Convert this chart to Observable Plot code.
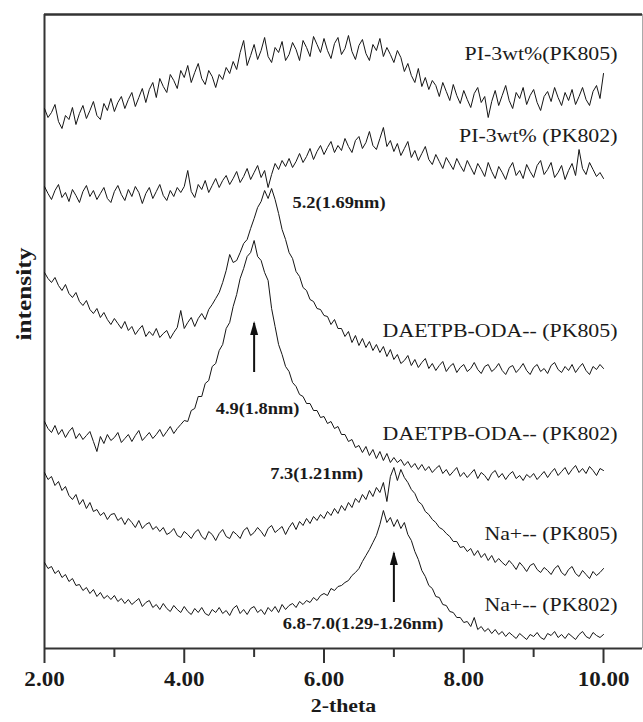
<!DOCTYPE html>
<html><head><meta charset="utf-8">
<script src="https://cdn.jsdelivr.net/npm/d3@7"></script>
<script src="https://cdn.jsdelivr.net/npm/@observablehq/plot@0.6"></script>
<style>body{margin:0;background:#fff;}</style>
</head><body>
<div id="chart"></div>
<script>
// 2-theta sampling grid: 2.00 .. 10.00 step 0.05 (161 points)
const thetaStart = 2, thetaStep = 0.05, nPoints = 161;

// intensities (arbitrary offset units)
const pi805 = [
540,531,536,544,527,520,533,529,541,524,
535,543,530,538,547,533,529,545,538,550,
537,546,552,540,549,556,542,551,560,546,
559,566,551,570,562,556,574,568,560,578,
571,583,566,576,585,570,564,578,572,561,
574,569,581,575,587,579,596,608,583,593,
604,589,598,611,592,586,601,596,607,588,
594,606,599,588,608,601,592,612,604,596,
610,598,590,605,611,594,600,613,597,589,
603,609,595,588,604,598,610,592,601,594,
586,598,591,577,585,573,566,580,562,571,
559,568,563,552,566,557,548,564,553,545,
558,549,541,555,561,546,552,531,547,558,
543,553,563,548,540,556,550,561,544,553,
559,546,538,552,557,547,561,551,543,556,
548,559,544,552,561,549,543,557,563,550,
575];
const pi802 = [
462,455,449,458,464,451,456,447,459,453,
446,457,463,452,458,449,455,461,450,446,
457,463,454,448,459,452,462,456,445,455,
461,450,457,464,453,448,458,452,461,456,
462,478,457,451,464,459,468,456,463,470,
461,468,473,464,470,477,466,472,480,469,
476,483,471,478,461,474,485,479,488,482,
490,481,487,495,486,492,500,489,497,503,
494,501,507,496,503,498,510,502,496,508,
512,500,506,517,503,499,510,521,502,508,
497,505,493,500,507,491,498,488,495,502,
489,484,494,487,480,491,485,479,490,483,
477,488,481,474,485,479,472,486,477,470,
482,476,469,480,486,473,478,470,484,477,
471,483,488,474,479,486,471,476,483,469,
478,485,473,499,480,474,486,479,472,476,
470];
const dae805 = [
376,370,366,371,363,358,364,355,351,356,
347,343,348,339,335,340,331,336,329,324,
330,325,320,327,318,322,314,319,323,312,
317,313,320,311,315,318,310,316,321,338,
320,326,331,322,330,335,329,339,344,350,
356,366,378,394,386,388,396,405,409,420,
430,441,447,458,450,460,449,435,419,409,
396,390,377,372,361,358,349,347,340,339,
333,332,324,329,320,320,312,317,306,313,
303,310,301,307,298,304,296,302,292,299,
289,294,285,288,293,283,289,281,286,290,
280,285,278,283,287,277,282,285,276,281,
284,277,280,286,279,275,282,284,277,280,
285,278,274,281,283,276,280,285,278,274,
281,284,277,280,275,283,286,279,276,282,
278,284,276,281,285,278,274,282,279,284,
280];
const dae802 = [
227,220,216,223,214,219,211,217,221,210,
215,209,213,217,207,197,212,205,214,208,
211,216,206,210,214,207,213,218,208,212,
216,210,214,219,212,217,222,215,220,224,
228,227,238,240,252,252,265,268,282,285,
298,304,320,326,342,354,370,380,392,396,
408,392,388,376,368,340,322,304,294,282,
277,266,262,254,252,245,245,238,238,231,
232,225,227,220,222,214,214,207,209,201,
203,196,202,193,199,190,197,188,195,186,
191,186,189,183,187,181,185,179,184,178,
182,176,180,183,175,179,173,177,181,172,
176,171,175,179,170,176,173,168,175,178,
171,175,169,174,177,170,173,168,174,171,
175,169,173,177,171,176,180,173,177,181,
174,179,183,176,180,175,182,178,173,180,
178];
const na805 = [
176,169,172,163,167,158,162,153,149,154,
144,149,140,146,137,139,133,136,129,134,
135,128,131,124,130,126,121,128,120,124,
126,119,122,117,121,114,116,120,113,111,
117,114,110,116,119,112,109,117,114,108,
115,119,112,110,117,114,110,118,121,113,
116,121,117,112,120,123,116,119,122,114,
121,126,119,127,123,130,125,132,128,134,
130,137,133,140,135,143,138,146,141,150,
146,154,149,158,152,161,156,166,147,172,
181,168,179,171,166,159,155,147,144,137,
134,129,126,121,119,115,112,107,107,101,
102,97,100,93,98,91,95,88,93,86,
90,86,83,88,84,79,86,82,77,83,
85,79,76,81,78,74,80,83,76,73,
79,82,75,72,78,74,70,77,73,76,
80];
const na802 = [
86,80,82,75,78,71,74,67,70,63,
64,58,61,55,59,52,56,50,53,49,
53,47,50,45,49,44,47,50,42,46,
48,41,44,39,45,40,37,43,39,36,
42,37,34,40,36,41,35,33,39,36,
41,35,38,33,40,43,35,39,34,40,
42,36,39,34,41,37,42,36,44,39,
43,45,41,47,44,48,46,51,48,53,
55,53,60,58,62,63,66,68,73,76,
80,87,93,99,106,113,124,138,126,131,
122,129,120,126,114,108,97,89,78,72,
63,60,52,51,44,43,37,36,31,31,
26,27,22,31,19,22,17,20,15,19,
14,17,12,16,13,10,15,12,9,14,
12,16,11,9,15,13,17,11,14,10,
15,12,9,14,17,12,10,16,13,11,
14];

const seriesNames = ["PI-3wt%(PK805)", "PI-3wt% (PK802)", "DAETPB-ODA-- (PK805)", "DAETPB-ODA-- (PK802)", "Na+-- (PK805)", "Na+-- (PK802)"];
const seriesValues = [pi805, pi802, dae805, dae802, na805, na802];
const labelY = [595, 513, 318, 215, 115, 44];
const labelX = 10.2;

const noteText = ["5.2(1.69nm)", "4.9(1.8nm)", "7.3(1.21nm)", "6.8-7.0(1.29-1.26nm)"];
const noteX = [5.55, 4.45, 5.23, 5.41];
const noteY = [446, 240, 175, 25];

const arrowX = [5.0, 7.0];
const arrowFrom = [276, 46];
const arrowTo = [325, 95];

const majorTicks = [2, 4, 6, 8, 10];
const minorTicks = [3, 5, 7, 9];
const xDomain = [2, 10.558];
const yDomain = [0, 634];

const theta = d3.range(nPoints).map(i => +(thetaStart + i * thetaStep).toFixed(2));
const rows = seriesValues.flatMap((vals, s) => vals.map((v, i) => ({series: seriesNames[s], x: theta[i], y: v})));
const labels = seriesNames.map((n, i) => ({text: n, x: labelX, y: labelY[i]}));
const notes = noteText.map((t, i) => ({text: t, x: noteX[i], y: noteY[i]}));
const arrows = arrowX.map((x, i) => ({x, y1: arrowFrom[i], y2: arrowTo[i]}));

// narrow filled arrow-head symbol (tip at top)
const headSymbol = {
  draw(ctx, size) {
    const h = 14, w = 4;
    ctx.moveTo(0, -h * 0.6);
    ctx.lineTo(w, h * 0.4);
    ctx.lineTo(-w, h * 0.4);
    ctx.closePath();
  }
};

const ink = "#1a1a1a";
const chart = Plot.plot({
  width: 643,
  height: 722,
  marginTop: 14,
  marginRight: 1,
  marginBottom: 74,
  marginLeft: 44,
  style: {fontFamily: "'Liberation Serif', 'DejaVu Serif', serif", background: "#fff", color: ink},
  x: {domain: xDomain},
  y: {domain: yDomain, axis: null},
  marks: [
    Plot.ruleX([xDomain[1]], {stroke: "#aaa", strokeWidth: 1}),
    Plot.ruleY([yDomain[1]], {stroke: "#333", strokeWidth: 2.5}),
    Plot.ruleX([xDomain[0]], {stroke: "#333", strokeWidth: 2}),
    Plot.ruleY([yDomain[0]], {stroke: "#333", strokeWidth: 2}),
    Plot.axisX({ticks: majorTicks, tickSize: 15, tickPadding: 8, strokeWidth: 2, stroke: "#333",
      tickFormat: d => d.toFixed(2), fontSize: 20, fontWeight: "bold", fill: ink, label: null}),
    Plot.axisX({ticks: minorTicks, tickSize: 9, strokeWidth: 2, stroke: "#333", tickFormat: () => "", label: null}),
    Plot.line(rows, {x: "x", y: "y", z: "series", stroke: "#151515", strokeWidth: 1, curve: "linear"}),
    Plot.ruleX(arrows, {x: "x", y1: "y1", y2: "y2", stroke: "#111", strokeWidth: 2}),
    Plot.dot(arrows, {x: "x", y: "y2", symbol: headSymbol, fill: "#111", stroke: "none", dy: 6}),
    Plot.text(labels, {x: "x", y: "y", text: "text", textAnchor: "end", fontSize: 19, fill: ink}),
    Plot.text(notes, {x: "x", y: "y", text: "text", textAnchor: "start", fontSize: 16, fontWeight: "bold", fill: ink}),
    Plot.text(["2-theta"], {frameAnchor: "bottom", dy: 63, fontSize: 19, fontWeight: "bold", fill: ink}),
    Plot.text(["intensity"], {frameAnchor: "left", dx: -21, dy: 9, rotate: -90, fontSize: 22, fontWeight: "bold", fill: ink})
  ]
});
document.getElementById("chart").append(chart);
// the reference typeface is set somewhat wide: stretch text along its run
chart.querySelectorAll("text").forEach(t => {
  const L = t.getComputedTextLength();
  if (L > 0) {
    t.setAttribute("textLength", (L * 1.15).toFixed(1));
    t.setAttribute("lengthAdjust", "spacingAndGlyphs");
  }
});
</script>
</body></html>
